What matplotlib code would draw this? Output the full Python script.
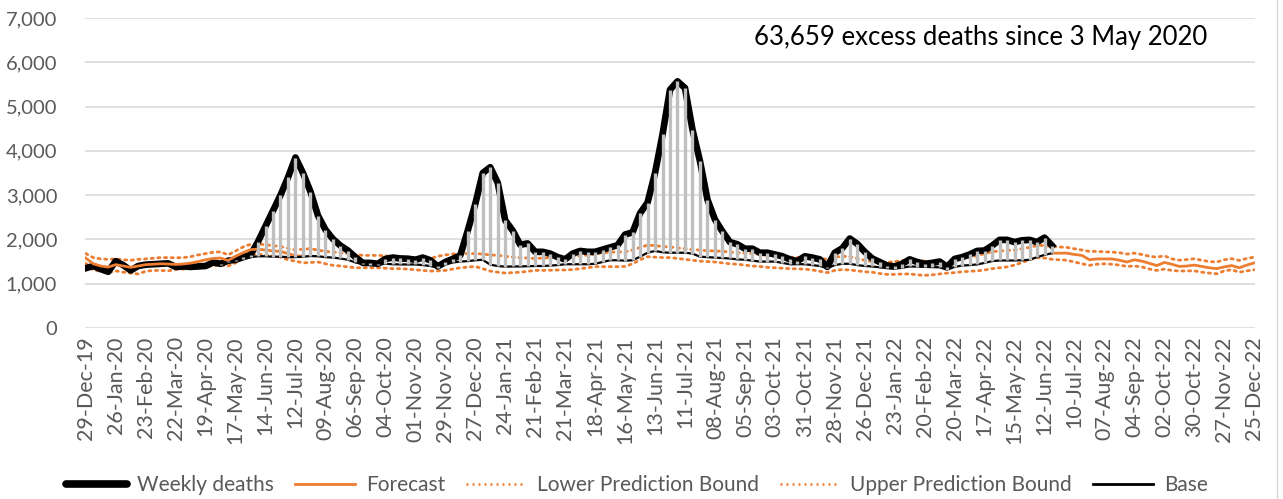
import matplotlib
matplotlib.use("Agg")
import matplotlib.pyplot as plt
from matplotlib.lines import Line2D
import numpy as np
import datetime as dt

plt.rcParams['font.family'] = ['Lato', 'DejaVu Sans']

# ---------------- data ----------------
start_date = dt.date(2019, 12, 29)
n_weeks = 157  # 29-Dec-19 .. 25-Dec-22

weekly_deaths = [
    1350, 1400, 1330, 1270, 1510, 1420, 1300, 1400, 1430, 1440,
    1450, 1460, 1380, 1390, 1380, 1390, 1400, 1480, 1450, 1520,
    1540, 1600, 1650, 1950, 2300, 2650, 3000, 3400, 3850, 3500,
    3080, 2540, 2220, 2010, 1860, 1750, 1600, 1470, 1470, 1450,
    1560, 1590, 1570, 1565, 1540, 1590, 1530, 1390, 1490, 1560,
    1640, 2200, 2800, 3500, 3630, 3280, 2430, 2200, 1880, 1910,
    1720, 1720, 1680, 1600, 1550, 1680, 1740, 1720, 1720, 1770,
    1820, 1870, 2110, 2160, 2590, 2830, 3500, 4370, 5380, 5570,
    5420, 4480, 3770, 2900, 2450, 2180, 1940, 1890, 1790, 1790,
    1700, 1700, 1660, 1620, 1550, 1510, 1620, 1590, 1550, 1380,
    1700, 1800, 2020, 1900, 1720, 1570, 1490, 1410, 1390, 1450,
    1550, 1490, 1450, 1470, 1500, 1380, 1560, 1600, 1660, 1740,
    1750, 1860, 1990, 1990, 1940, 1980, 1990, 1940, 2040, 1860,
]

base_start = 18  # 3-May-20
base = [
    1430, 1480, 1520, 1560, 1600, 1620, 1620, 1610, 1610, 1600,
    1600, 1610, 1625, 1620, 1600, 1590, 1570, 1540, 1480, 1440,
    1420, 1430, 1450, 1440, 1435, 1435, 1435, 1420, 1400, 1360,
    1430, 1480, 1500, 1510, 1530, 1540, 1430, 1400, 1385, 1390,
    1390, 1395, 1400, 1400, 1410, 1420, 1440, 1440, 1440, 1440,
    1450, 1490, 1530, 1530, 1520, 1530, 1610, 1700, 1740, 1710,
    1700, 1700, 1700, 1680, 1610, 1600, 1590, 1580, 1570, 1550,
    1540, 1520, 1500, 1500, 1500, 1470, 1440, 1440, 1440, 1420,
    1400, 1350, 1420, 1450, 1450, 1420, 1400, 1390, 1370, 1350,
    1340, 1360, 1390, 1385, 1380, 1375, 1370, 1315, 1380, 1410,
    1420, 1435, 1470, 1510, 1525, 1525, 1525, 1530, 1540, 1600,
    1650, 1690,
]

forecast_early = [
    1580, 1450, 1400, 1375, 1430, 1400, 1370, 1400, 1430, 1440,
    1450, 1445, 1435, 1445, 1465, 1500, 1540, 1570, 1580, 1525,
    1620, 1700, 1770, 1780, 1760, 1740, 1730, 1680, 1630, 1620,
]

late_start = 129
forecast_late = [
    1690, 1690, 1690, 1660, 1640, 1540, 1560, 1560, 1560, 1530,
    1490, 1540, 1510, 1460, 1410, 1480, 1440, 1390, 1400, 1420,
    1390, 1360, 1340, 1380, 1410, 1360, 1420, 1470,
]

upper_bound = [
    1680, 1590, 1560, 1550, 1560, 1540, 1530, 1550, 1560, 1575,
    1590, 1590, 1585, 1590, 1610, 1650, 1680, 1710, 1720, 1650,
    1740, 1830, 1890, 1900, 1880, 1860, 1840, 1800, 1760, 1780,
    1790, 1760, 1730, 1715, 1700, 1680, 1660, 1640, 1640, 1640,
    1630, 1610, 1600, 1595, 1590, 1580, 1565, 1620, 1650, 1670,
    1680, 1680, 1680, 1670, 1650, 1640, 1620, 1600, 1590, 1580,
    1570, 1580, 1590, 1600, 1610, 1610, 1630, 1650, 1670, 1700,
    1710, 1720, 1720, 1760, 1820, 1870, 1860, 1840, 1830, 1810,
    1790, 1770, 1760, 1745, 1740, 1730, 1715, 1700, 1690, 1680,
    1660, 1640, 1630, 1620, 1600, 1590, 1590, 1580, 1570, 1550,
    1600, 1620, 1610, 1570, 1530, 1500, 1500, 1480, 1500, 1525,
    1530, 1520, 1510, 1500, 1490, 1470, 1530, 1570, 1600, 1630,
    1680, 1720, 1740, 1750, 1760, 1790, 1820, 1860, 1865, 1840,
    1830, 1820, 1790, 1760, 1730, 1730, 1720, 1715, 1700, 1670,
    1690, 1660, 1620, 1600, 1630, 1560, 1530, 1545, 1565, 1530,
    1500, 1490, 1540, 1565, 1525, 1570, 1600,
]

lower_bound = [
    1460, 1310, 1280, 1250, 1290, 1260, 1240, 1220, 1280, 1300,
    1300, 1290, 1320, 1330, 1340, 1360, 1370, 1410, 1420, 1400,
    1470, 1570, 1640, 1670, 1650, 1630, 1600, 1540, 1510, 1470,
    1480, 1490, 1450, 1415, 1400, 1380, 1360, 1360, 1360, 1360,
    1350, 1340, 1340, 1330, 1315, 1300, 1285, 1290, 1300, 1330,
    1360, 1375, 1390, 1340, 1285, 1260, 1240, 1250, 1260, 1280,
    1300, 1300, 1305, 1310, 1310, 1320, 1340, 1360, 1385, 1385,
    1385, 1385, 1390, 1450, 1540, 1610, 1600, 1590, 1590, 1570,
    1550, 1530, 1510, 1500, 1490, 1470, 1450, 1440, 1420, 1400,
    1390, 1370, 1360, 1350, 1340, 1335, 1330, 1310, 1280, 1250,
    1300, 1320, 1310, 1290, 1270, 1260, 1230, 1210, 1210, 1220,
    1220, 1200, 1190, 1200, 1220, 1240, 1250, 1270, 1280, 1290,
    1310, 1340, 1360, 1380, 1420, 1480, 1540, 1590, 1580, 1550,
    1540, 1530, 1490, 1450, 1415, 1440, 1450, 1440, 1420, 1390,
    1400, 1380, 1330, 1300, 1330, 1300, 1285, 1290, 1290, 1260,
    1240, 1225, 1290, 1315, 1260, 1290, 1315,
]

annotation = "63,659 excess deaths since 3 May 2020"

# ---------------- derived ----------------
week_dates = [start_date + dt.timedelta(weeks=i) for i in range(n_weeks)]
tick_idx = list(range(0, n_weeks, 4))
tick_labels = [week_dates[i].strftime("%d-%b-%y") for i in tick_idx]

x_all = np.arange(n_weeks)
x_wd = np.arange(len(weekly_deaths))
x_base = np.arange(base_start, base_start + len(base))
x_fe = np.arange(len(forecast_early))
x_fl = np.arange(late_start, late_start + len(forecast_late))

ORANGE = "#ED7D31"
GREY_TXT = "#595959"
GRID = "#D9D9D9"
BAR = "#BFBFBF"

W, H = 1283, 499
fig = plt.figure(figsize=(W / 100, H / 100), dpi=100)
ax = fig.add_axes([85 / W, 1 - 328 / H, (1255 - 85) / W, (328 - 18) / H])

dot = (0, (0.8, 1.6))
ax.plot(x_all, lower_bound, color=ORANGE, lw=2.0, ls=dot, zorder=2,
        dash_capstyle="round")
ax.plot(x_all, upper_bound, color=ORANGE, lw=2.0, ls=dot, zorder=2,
        dash_capstyle="round")
ax.plot(x_wd, weekly_deaths, color="black", lw=4.8, zorder=3,
        solid_joinstyle="round")
ax.plot(x_fe, forecast_early, color=ORANGE, lw=2.0, zorder=4)
ax.plot(x_fl, forecast_late, color=ORANGE, lw=2.0, zorder=4)
ax.plot(x_base, base, color="black", lw=1.6, zorder=4)

wd_arr = np.array(weekly_deaths)
ax.vlines(x_base, base, wd_arr[x_base], color=BAR, lw=2.4, zorder=5)

ax.set_xlim(-0.1, 156.1)
ax.set_ylim(0, 7000)
ax.set_yticks(range(0, 7001, 1000))
ax.set_yticklabels([f"{v:,}" for v in range(0, 7001, 1000)])
ax.yaxis.grid(True, color=GRID, lw=1.2, zorder=0)
ax.set_axisbelow(True)
ax.set_xticks(tick_idx)
ax.set_xticklabels(tick_labels, rotation=90, va="top", ha="center")
ax.tick_params(axis="x", length=0, pad=6, labelsize=15.5, labelcolor=GREY_TXT)
ax.tick_params(axis="y", length=0, pad=20, labelsize=14.5, labelcolor=GREY_TXT)
for s in ax.spines.values():
    s.set_visible(False)

ax.text((981 - 85) / 1170, (328 - 38) / 310, annotation, transform=ax.transAxes,
        ha="center", va="center", fontsize=18.5, color="black")

handles = [
    Line2D([], [], color="black", lw=5.5, solid_capstyle="round"),
    Line2D([], [], color=ORANGE, lw=2.0),
    Line2D([], [], color=ORANGE, lw=1.8, ls=dot),
    Line2D([], [], color=ORANGE, lw=1.8, ls=dot),
    Line2D([], [], color="black", lw=2.0),
]
labels = ["Weekly deaths", "Forecast", "Lower Prediction Bound",
          "Upper Prediction Bound", "Base"]
leg = fig.legend(handles, labels, loc="center", bbox_to_anchor=(637 / W, 1 - 485 / H),
                 ncol=5, frameon=False, fontsize=15, handlelength=2.9,
                 columnspacing=1.0, handletextpad=0.5)
for t in leg.get_texts():
    t.set_color(GREY_TXT)

fig.add_artist(Line2D([1277 / W, 1277 / W], [0, 1], color=GRID, lw=1.0,
                      transform=fig.transFigure))

fig.savefig("out.png", dpi=100)
